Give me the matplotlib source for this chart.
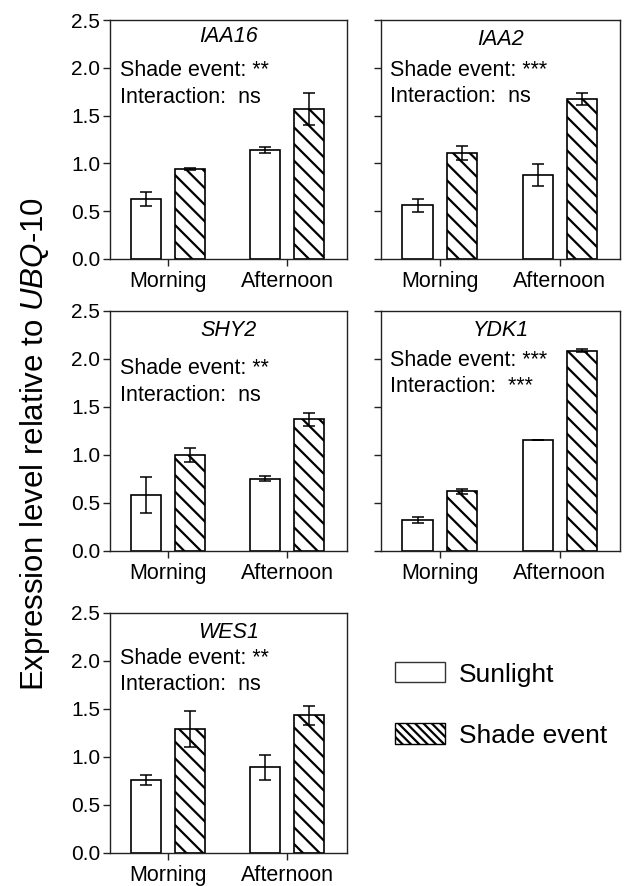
import matplotlib
matplotlib.use("Agg")
import matplotlib.pyplot as plt
from matplotlib.patches import Patch
import numpy as np

plt.rcParams['font.family'] = ['Liberation Sans', 'DejaVu Sans']
plt.rcParams['mathtext.fontset'] = 'custom'
plt.rcParams['mathtext.rm'] = 'Liberation Sans'
plt.rcParams['mathtext.it'] = 'Liberation Sans:italic'
plt.rcParams['hatch.linewidth'] = 1.6

# ---- data ----
times = ["Morning", "Afternoon"]
genes = ["IAA16", "IAA2", "SHY2", "YDK1", "WES1"]
shade_sig = ["**", "***", "**", "***", "**"]
interaction_sig = ["ns", "ns", "ns", "***", "ns"]

sun_IAA16 = [0.63, 1.14]
sun_err_IAA16 = [0.075, 0.03]
shade_IAA16 = [0.94, 1.57]
shade_err_IAA16 = [0.01, 0.165]

sun_IAA2 = [0.56, 0.88]
sun_err_IAA2 = [0.065, 0.115]
shade_IAA2 = [1.11, 1.67]
shade_err_IAA2 = [0.07, 0.063]

sun_SHY2 = [0.585, 0.755]
sun_err_SHY2 = [0.19, 0.03]
shade_SHY2 = [1.0, 1.37]
shade_err_SHY2 = [0.07, 0.07]

sun_YDK1 = [0.325, 1.155]
sun_err_YDK1 = [0.031, 0.0]
shade_YDK1 = [0.62, 2.085]
shade_err_YDK1 = [0.03, 0.015]

sun_WES1 = [0.76, 0.895]
sun_err_WES1 = [0.05, 0.13]
shade_WES1 = [1.29, 1.435]
shade_err_WES1 = [0.19, 0.097]

yticks = [0.0, 0.5, 1.0, 1.5, 2.0, 2.5]
ytick_labels = ["0.0", "0.5", "1.0", "1.5", "2.0", "2.5"]

data = {
    "IAA16": (sun_IAA16, sun_err_IAA16, shade_IAA16, shade_err_IAA16),
    "IAA2": (sun_IAA2, sun_err_IAA2, shade_IAA2, shade_err_IAA2),
    "SHY2": (sun_SHY2, sun_err_SHY2, shade_SHY2, shade_err_SHY2),
    "YDK1": (sun_YDK1, sun_err_YDK1, shade_YDK1, shade_err_YDK1),
    "WES1": (sun_WES1, sun_err_WES1, shade_WES1, shade_err_WES1),
}

W, H = 633, 886
fig = plt.figure(figsize=(W / 100, H / 100), dpi=100)

col_x = [(110, 347), (381, 620)]
row_y = [(20, 259), (311, 551), (613, 853)]

positions = [(0, 0), (0, 1), (1, 0), (1, 1), (2, 0)]
text_y = {
    "IAA16": (0.929, 0.79, 0.674),
    "IAA2": (0.92, 0.79, 0.68),
    "SHY2": (0.92, 0.76, 0.648),
    "YDK1": (0.92, 0.795, 0.685),
    "WES1": (0.92, 0.81, 0.70),
}

bw = 0.252
off = 0.185
x = np.arange(len(times))

for i, g in enumerate(genes):
    r, c = positions[i]
    x0, x1 = col_x[c]
    yt, yb = row_y[r]
    ax = fig.add_axes([x0 / W, 1 - yb / H, (x1 - x0) / W, (yb - yt) / H])
    sun, sun_e, sh, sh_e = data[g]
    ax.bar(x - off, sun, bw, color="white", edgecolor="black", linewidth=1.2, zorder=2)
    ax.bar(x + off, sh, bw, color="white", edgecolor="black", linewidth=1.2,
           hatch="\\\\", zorder=2)
    ax.errorbar(x - off, sun, yerr=sun_e, fmt="none", ecolor="black",
                elinewidth=1.1, capsize=4.2, capthick=1.1, zorder=3)
    ax.errorbar(x + off, sh, yerr=sh_e, fmt="none", ecolor="black",
                elinewidth=1.1, capsize=4.2, capthick=1.1, zorder=3)
    ax.set_xlim(-0.49, 1.50)
    ax.set_ylim(0, 2.5)
    ax.set_yticks(yticks)
    if c == 0:
        ax.set_yticklabels(ytick_labels, fontsize=15)
    else:
        ax.set_yticklabels([])
    ax.set_xticks(x)
    ax.set_xticklabels(times, fontsize=15.5)
    ax.tick_params(axis="both", direction="out", length=5, width=1.0, color="#222222")
    ax.tick_params(axis="y", pad=2)
    ax.tick_params(axis="x", pad=3.5)
    for s in ax.spines.values():
        s.set_linewidth(1.0)
        s.set_color("#222222")
    ty = text_y[g]
    tx = 0.042 if c == 0 else 0.038
    ax.text(0.5, ty[0], g, transform=ax.transAxes, ha="center", va="center",
            fontsize=15.5, style="italic")
    ax.text(tx, ty[1], "Shade event: " + shade_sig[i], transform=ax.transAxes,
            ha="left", va="center", fontsize=15.5)
    ax.text(tx, ty[2], "Interaction:  " + interaction_sig[i], transform=ax.transAxes,
            ha="left", va="center", fontsize=15.5)

fig.text(0.055, 0.499, r"Expression level relative to $\mathit{UBQ}$-$\mathit{10}$",
         rotation=90, ha="center", va="center", fontsize=22.5)

handles = [Patch(facecolor="white", edgecolor="#333333", linewidth=1.0, label="Sunlight"),
           Patch(facecolor="white", edgecolor="black", linewidth=1.0, hatch="\\\\\\\\",
                 label="Shade event")]
fig.legend(handles=handles, loc="center left", bbox_to_anchor=(395 / W, 1 - 705 / H),
           frameon=False, fontsize=19, handlelength=1.9, handleheight=0.8,
           handletextpad=0.53, labelspacing=1.4, borderpad=0, borderaxespad=0)

fig.savefig("out.png", dpi=100, facecolor="white")
